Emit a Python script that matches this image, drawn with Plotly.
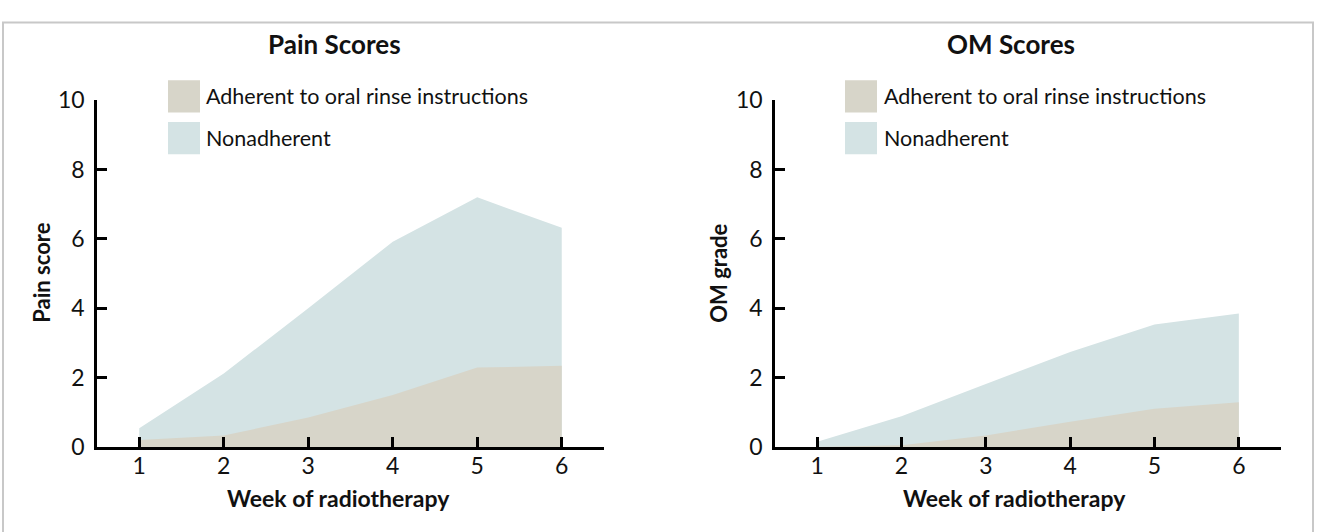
import plotly.graph_objects as go

weeks = [1, 2, 3, 4, 5, 6]
pain_adherent = [0.20, 0.33, 0.85, 1.50, 2.29, 2.34]
pain_nonadherent = [0.54, 2.12, 4.00, 5.92, 7.20, 6.32]
om_adherent = [0.00, 0.05, 0.33, 0.73, 1.10, 1.29]
om_nonadherent = [0.15, 0.89, 1.82, 2.74, 3.53, 3.85]
y_ticks = [0, 2, 4, 6, 8, 10]
series_names = ["Adherent to oral rinse instructions", "Nonadherent"]
panel_titles = ["Pain Scores", "OM Scores"]
y_titles = ["Pain score", "OM grade"]
x_title = "Week of radiotherapy"

W, H = 1318, 532
C_ADH = "#d7d5c9"
C_NON = "#d4e3e4"
FONT = "Lato"
TXT = "#111111"

def px(x):
    return x / W

def py(y):
    return 1 - y / H

fig = go.Figure()

panels = [
    (pain_nonadherent, pain_adherent, "x", "y"),
    (om_nonadherent, om_adherent, "x2", "y2"),
]
for non, adh, xa, ya in panels:
    fig.add_trace(go.Scatter(x=weeks, y=non, mode="none", fill="tozeroy",
                             fillcolor=C_NON, name=series_names[1],
                             showlegend=False, xaxis=xa, yaxis=ya))
    fig.add_trace(go.Scatter(x=weeks, y=adh, mode="none", fill="tozeroy",
                             fillcolor=C_ADH, name=series_names[0],
                             showlegend=False, xaxis=xa, yaxis=ya))

y_dom = [py(456), py(90)]
axis_common = dict(
    showgrid=False, zeroline=False, showline=True, linecolor="black",
    linewidth=2.5, ticks="inside", ticklen=10, tickwidth=2.5,
    tickcolor="black", tickfont=dict(family=FONT, size=23, color=TXT),
)
fig.update_layout(
    width=W, height=H,
    margin=dict(l=0, r=0, t=0, b=0),
    paper_bgcolor="white", plot_bgcolor="white",
    showlegend=False,
    xaxis=dict(domain=[px(97), px(604)], range=[0.5, 6.5], tickvals=weeks,
               anchor="y", ticklabelstandoff=-3, **axis_common),
    yaxis=dict(domain=y_dom, range=[0, 10], tickvals=y_ticks,
               anchor="x", ticklabelstandoff=5, **axis_common),
    xaxis2=dict(domain=[px(775), px(1281)], range=[0.5, 6.5], tickvals=weeks,
                anchor="y2", ticklabelstandoff=-3, **axis_common),
    yaxis2=dict(domain=y_dom, range=[0, 10], tickvals=y_ticks,
                anchor="x2", ticklabelstandoff=5, **axis_common),
)

shapes = []
annotations = []

# outer light border
shapes.append(dict(type="rect", xref="paper", yref="paper",
                   x0=px(3), x1=px(1313), y0=py(560), y1=py(8),
                   line=dict(color="#c8c8c8", width=2), fillcolor="rgba(0,0,0,0)",
                   layer="below"))

panel_geo = [
    dict(title_x=334, xt_x=338, yt_x=42, sw_x=168, txt_x=204),
    dict(title_x=1011, xt_x=1014, yt_x=719, sw_x=845, txt_x=882),
]
for i, g in enumerate(panel_geo):
    annotations.append(dict(text="<b>" + panel_titles[i] + "</b>", xref="paper", yref="paper",
                            x=px(g["title_x"]), y=py(31), showarrow=False,
                            xanchor="center", yanchor="middle",
                            font=dict(family=FONT, size=26, color=TXT)))
    annotations.append(dict(text="<b>" + x_title + "</b>", xref="paper", yref="paper",
                            x=px(g["xt_x"]), y=py(510), showarrow=False,
                            xanchor="center", yanchor="middle",
                            font=dict(family=FONT, size=23, color=TXT)))
    annotations.append(dict(text="<b>" + y_titles[i] + "</b>", xref="paper", yref="paper",
                            x=px(g["yt_x"]), y=py(272), showarrow=False, textangle=-90,
                            xanchor="center", yanchor="middle",
                            font=dict(family=FONT, size=22, color=TXT)))
    for j, (col, yc) in enumerate([(C_ADH, 86), (C_NON, 130)]):
        shapes.append(dict(type="rect", xref="paper", yref="paper",
                           x0=px(g["sw_x"]), x1=px(g["sw_x"] + 32),
                           y0=py(yc + 17), y1=py(yc - 17),
                           line=dict(width=0), fillcolor=col))
        annotations.append(dict(text=series_names[j], xref="paper", yref="paper",
                                x=px(g["txt_x"]), y=py(yc), showarrow=False,
                                xanchor="left", yanchor="middle",
                                font=dict(family=FONT, size=21.5, color=TXT)))

fig.update_layout(shapes=shapes, annotations=annotations)
fig.write_html("out.html", config={"displayModeBar": False},
               post_script="document.body.style.margin='0';")
